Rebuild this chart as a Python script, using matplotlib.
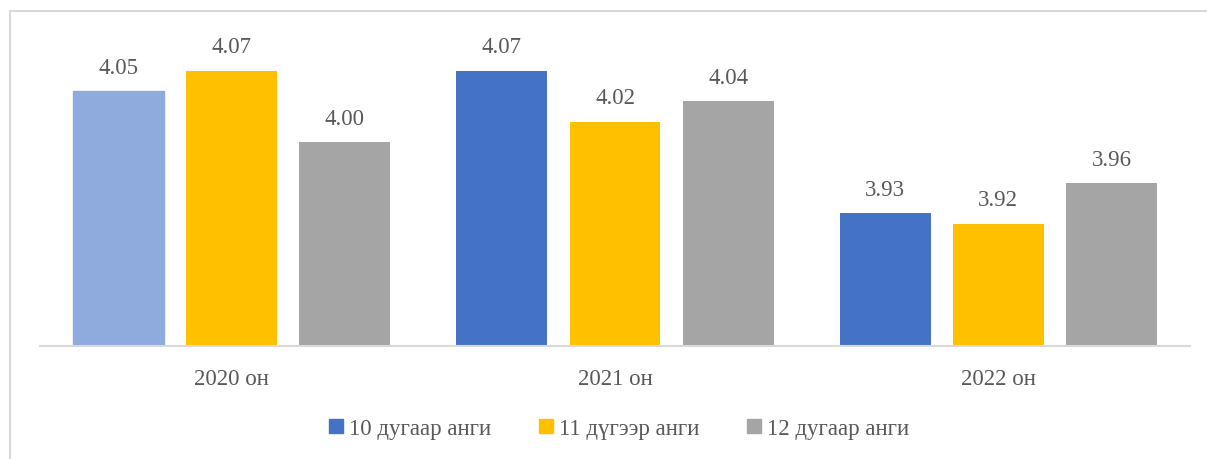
import matplotlib.pyplot as plt
from matplotlib.lines import Line2D
import numpy as np

plt.rcParams['font.family'] = ['Liberation Serif', 'DejaVu Serif']

years = ['2020 он', '2021 он', '2022 он']
series = ['10 дугаар анги', '11 дүгээр анги', '12 дугаар анги']
grade10 = [4.05, 4.07, 3.93]
grade11 = [4.07, 4.02, 3.92]
grade12 = [4.00, 4.04, 3.96]
colors = ['#4472C4', '#FFC000', '#A5A5A5']
text_col = '#595959'

W, H = 1207, 460
fig = plt.figure(figsize=(W / 100, H / 100), dpi=100)
ax = fig.add_axes([40 / W, (H - 347) / H, 1150 / W, (347 - 41) / H])

x = np.arange(len(years))
width = 0.237
offset = 0.295
for i, (vals, c) in enumerate(zip([grade10, grade11, grade12], colors)):
    bars = ax.bar(x + (i - 1) * offset, [v - 3.8 for v in vals], width,
                  bottom=3.8, color=c)
    if i == 0:
        bars[0].set_color('#8FAADC')
    for b, v in zip(bars, vals):
        ax.annotate(f'{v:.2f}', (b.get_x() + b.get_width() / 2, v),
                    xytext=(0, 9.5), textcoords='offset points',
                    ha='center', va='bottom', fontsize=16.5, color=text_col)

ax.set_xlim(-0.5, 2.5)
ax.set_ylim(3.8, 4.1)
ax.set_yticks([])
ax.set_xticks(x)
ax.set_xticklabels(years, fontsize=16.5, color=text_col)
ax.tick_params(axis='x', length=0, pad=16)
for s in ['top', 'right', 'left']:
    ax.spines[s].set_visible(False)
ax.spines['bottom'].set_color('#D9D9D9')
ax.spines['bottom'].set_linewidth(1.5)

handles = [Line2D([], [], marker='s', linestyle='none', markersize=10,
                  color=c) for c in colors]
fig.legend(handles, series, loc='center', bbox_to_anchor=(618 / W, 1 - 429 / H),
           ncol=3, frameon=False, fontsize=16.5, labelcolor=text_col,
           handletextpad=0.15, columnspacing=2.0, handlelength=0.8)

# chart border (left and top)
fig.add_artist(Line2D([10 / W, 10 / W], [0, 1 - 11.5 / H], color='#D9D9D9',
                      linewidth=1.5, transform=fig.transFigure))
fig.add_artist(Line2D([10 / W, 1], [1 - 11.5 / H, 1 - 11.5 / H], color='#D9D9D9',
                      linewidth=1.5, transform=fig.transFigure))

fig.savefig('out.png', dpi=100)
